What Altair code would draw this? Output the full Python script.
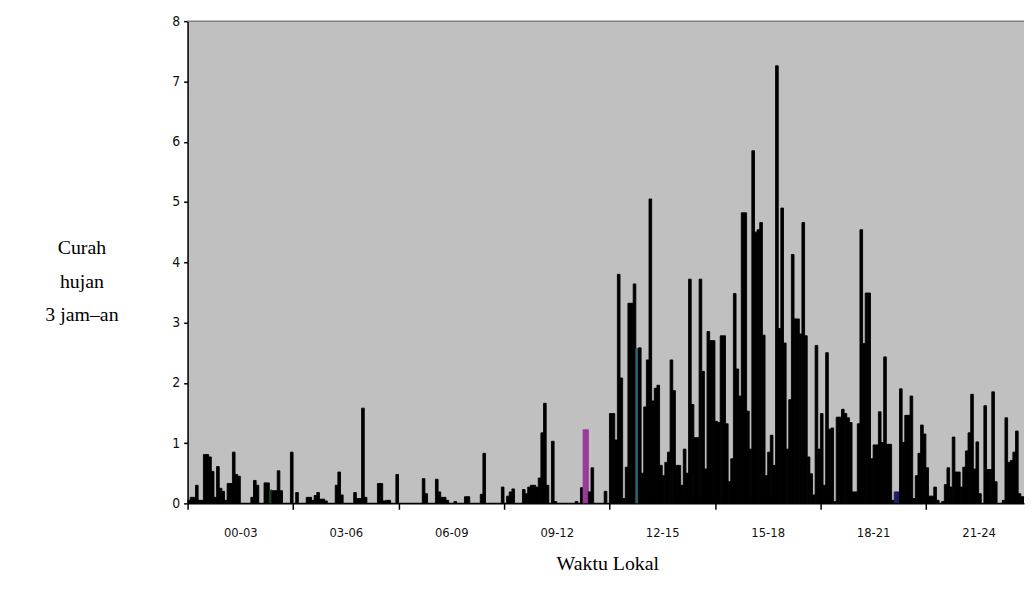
import altair as alt
import pandas as pd

periods = ["00-03", "03-06", "06-09", "09-12", "12-15", "15-18", "18-21", "21-24"]
bars_per_period = 40

g1 = [0.05, 0.1, 0.1, 0.3, 0.05, 0.05, 0.81, 0.81, 0.77, 0.53, 0.1, 0.61, 0.25, 0.2, 0.05, 0.33, 0.33, 0.85, 0.48, 0.45,
      0, 0, 0, 0, 0.1, 0.38, 0.3, 0, 0, 0.34, 0.34, 0.22, 0.21, 0.21, 0.54, 0.21, 0, 0, 0, 0.85]
g2 = [0, 0.18, 0, 0, 0, 0.1, 0.1, 0.05, 0.13, 0.18, 0.07, 0.07, 0.04, 0, 0, 0, 0.3, 0.52, 0.14, 0,
      0, 0, 0, 0.18, 0.08, 0.08, 1.58, 0.1, 0, 0, 0, 0, 0.33, 0.33, 0.04, 0.05, 0.05, 0, 0, 0.48]
g3 = [0, 0, 0, 0, 0, 0, 0, 0, 0, 0.41, 0.16, 0, 0, 0, 0.4, 0.19, 0.1, 0.1, 0.05, 0,
      0, 0.03, 0, 0, 0, 0.11, 0.11, 0, 0, 0, 0, 0.15, 0.83, 0, 0, 0, 0, 0, 0, 0.27]
g4 = [0, 0.12, 0.19, 0.24, 0, 0, 0, 0.23, 0.16, 0.27, 0.3, 0.3, 0.27, 0.42, 1.17, 1.66, 0.3, 0, 1.03, 0.03,
      0, 0, 0, 0, 0, 0, 0, 0.03, 0, 0.26, 1.22, 1.22, 0.19, 0.59, 0, 0, 0, 0, 0.2, 0]
g5 = [1.49, 1.49, 1.05, 3.8, 2.08, 0.08, 0.6, 3.32, 3.32, 3.64, 2.57, 2.58, 0.5, 1.6, 2.38, 5.05, 1.7, 1.91, 1.96, 0.63,
      0.46, 0.68, 0.85, 2.38, 1.87, 0.63, 0.63, 0.3, 0.9, 0.5, 3.72, 1.64, 1.09, 1.09, 3.72, 2.19, 0.57, 2.85, 2.7, 2.7]
g6 = [1.36, 1.34, 2.78, 2.78, 1.32, 0.36, 0.74, 3.48, 2.23, 1.78, 4.82, 4.82, 1.53, 0.9, 5.85, 4.5, 4.54, 4.66, 2.79, 0.46,
      0.85, 1.13, 0.63, 7.26, 2.9, 4.9, 2.66, 0.9, 1.72, 4.13, 3.06, 3.06, 2.81, 4.66, 2.78, 0.77, 0.49, 0.14, 2.62, 0.9]
g7 = [1.49, 0.3, 2.5, 1.23, 1.25, 0.03, 1.43, 1.43, 1.56, 1.49, 1.42, 1.34, 0.19, 0.19, 1.32, 4.54, 2.65, 3.49, 3.49, 0.74,
      0.97, 0.97, 1.52, 1.01, 2.43, 0.98, 0.98, 0.05, 0.19, 0.19, 1.9, 1.01, 1.46, 1.46, 1.78, 0.08, 0.46, 0.83, 1.3, 1.15]
g8 = [0.59, 0.12, 0.12, 0.27, 0.05, 0, 0.03, 0.31, 0.59, 0.27, 1.1, 0.52, 0.52, 0.27, 0.6, 0.87, 1.17, 1.81, 0.57, 1.02,
      0.16, 0, 1.62, 0.56, 0.56, 1.85, 0.36, 0, 0, 0.05, 1.42, 0.68, 0.71, 0.85, 1.2, 0.16, 0.11, 0.11]

rain = g1 + g2 + g3 + g4 + g5 + g6 + g7 + g8
df = pd.DataFrame({"i": list(range(len(rain))), "v": rain})

W = 843
H = 486
group_px = 106.3
xmax = W / (group_px / bars_per_period)

label_expr = "[" + ",".join(f"'{p}'" for p in periods) + f"][round(datum.value / {bars_per_period})]"
boundaries = [k * bars_per_period for k in range(len(periods))]

color_expr = (
    "(datum.i == 150 || datum.i == 151) ? '#9a3a9a' : "
    "datum.i == 170 ? '#2f5f6f' : "
    "datum.i == 31 ? '#1f3a1f' : "
    "(datum.i == 268 || datum.i == 269) ? '#1c1c66' : '#000000'"
)

tick_font = "Liberation Sans Narrow, DejaVu Sans Condensed, Liberation Sans"

bars = alt.Chart(df).transform_calculate(
    i2="datum.i + 1", c=color_expr
).mark_rect(clip=True, strokeWidth=0.9).encode(
    x=alt.X(
        "i:Q",
        scale=alt.Scale(domain=[0, xmax], nice=False, zero=False),
        axis=alt.Axis(
            values=boundaries, labelExpr=label_expr, labelOffset=group_px / 2,
            labelFlush=False, labelOverlap=False, labelAlign="center",
            tickSize=6, tickColor="black", tickWidth=1.5,
            domainColor="black", domainWidth=1.5,
            labelPadding=17, labelFont=tick_font, labelFontSize=13, labelColor="#111111",
            grid=False,
            title="Waktu Lokal", titleFont="Liberation Serif", titleFontSize=20,
            titleFontWeight="normal", titleColor="black",
            titleX=423, titleY=61, titleBaseline="middle", titleAlign="center",
        ),
    ),
    x2="i2:Q",
    y=alt.Y(
        "v:Q",
        scale=alt.Scale(domain=[0, 8], nice=False),
        axis=alt.Axis(
            values=list(range(9)), format="d", tickSize=4, tickColor="black", tickWidth=1.5,
            domainColor="black", domainWidth=1.5,
            labelPadding=4, labelFont=tick_font, labelFontSize=14, labelColor="#111111",
            grid=False,
            title=["Curah", "hujan", "3 jam\u2013an"], titleAngle=0,
            titleFont="Liberation Serif", titleFontSize=20, titleFontWeight="normal",
            titleColor="black", titleX=-107, titleY=234, titleAlign="center",
            titleBaseline="alphabetic", titleLineHeight=34,
        ),
    ),
    y2=alt.datum(0),
    fill=alt.Color("c:N", scale=None),
    stroke=alt.Color("c:N", scale=None),
)

top_border = alt.Chart(pd.DataFrame({"top": [8]})).mark_rule(
    color="#808080", strokeWidth=1.5
).encode(y="top:Q")

chart = alt.layer(bars, top_border).properties(
    width=W, height=H,
    autosize=alt.AutoSizeParams(type="none"),
    padding={"left": 181, "top": 11, "right": 1, "bottom": 80},
    background="white",
).configure_view(fill="#c0c0c0", stroke=None)

chart.save("out.html", embed_options={"renderer": "svg", "actions": False})
